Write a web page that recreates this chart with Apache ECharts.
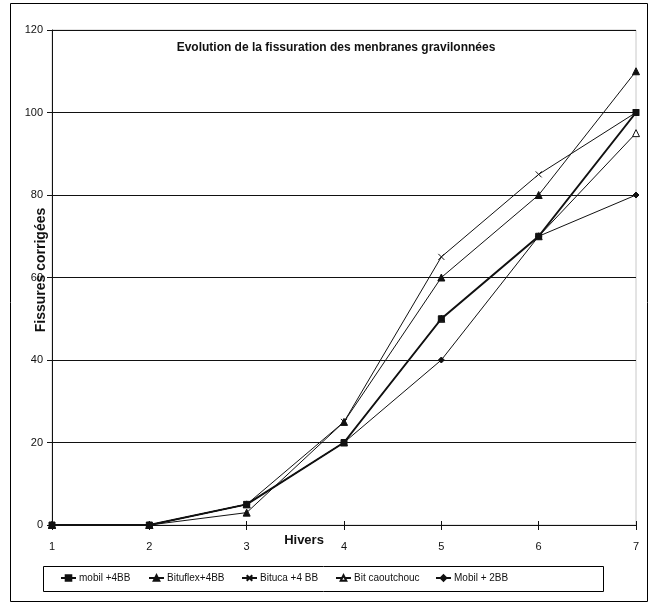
<!DOCTYPE html>
<html>
<head>
<meta charset="utf-8">
<script src="https://cdn.jsdelivr.net/npm/echarts@6/dist/echarts.min.js"></script>
<style>
html,body{margin:0;padding:0;background:#fff;}
#c{width:652px;height:607px;}
</style>
</head>
<body>
<div id="c"></div>
<script>
const hivers = [1, 2, 3, 4, 5, 6, 7];
const seriesNames = ['mobil +4BB', 'Bituflex+4BB', 'Bituca +4 BB', 'Bit caoutchouc', 'Mobil + 2BB'];
const mobil4BB = [0, 0, 5, 20, 50, 70, 100];
const bituflex4BB = [0, 0, 3, 25, 60, 80, 110];
const bituca4BB = [0, 0, 5, 25, 65, 85, 100];
const bitCaoutchouc = [0, 0, 5, 20, 50, 70, 95];
const mobil2BB = [0, 0, 5, 20, 40, 70, 80];
const yTicks = [0, 20, 40, 60, 80, 100, 120];

const pair = arr => arr.map((v, i) => [hivers[i], v]);
const FONT = '"Liberation Sans", Arial, sans-serif';
const xPath = 'path://M0,0L10,10M10,0L0,10';

const chart = echarts.init(document.getElementById('c'), null, {renderer: 'canvas'});
const mk = (name, data, symbol, size, lw, fill, z) => ({
  name: name,
  type: 'line',
  data: pair(data),
  symbol: symbol,
  symbolSize: size,
  showSymbol: true,
  z: z,
  lineStyle: {color: '#111', width: lw},
  itemStyle: {color: fill, borderColor: '#111', borderWidth: 1},
  emphasis: {disabled: true},
  animation: false
});

const legendLefts = [60, 148, 241, 335, 435];
const legends = seriesNames.map((n, i) => ({
  left: legendLefts[i], top: 573, padding: 0,
  itemWidth: 15, itemHeight: 7, itemGap: 0,
  textStyle: {fontFamily: FONT, fontSize: 10, color: '#111', padding: [0, 0, 0, -2]},
  data: [n], selectedMode: false
}));

chart.setOption({
  animation: false,
  backgroundColor: '#fff',
  graphic: [
    {type: 'rect', shape: {x: 10.5, y: 3.5, width: 637, height: 598},
     style: {fill: 'none', stroke: '#000', lineWidth: 1}, silent: true, z: -1},
    {type: 'rect', shape: {x: 43.5, y: 566.5, width: 560, height: 25},
     style: {fill: 'none', stroke: '#000', lineWidth: 1}, silent: true, z: -1},
    {type: 'text', x: 41, y: 270, rotation: Math.PI / 2,
     style: {text: 'Fissures corrigées', font: 'bold 14px "Liberation Sans", Arial, sans-serif',
             fill: '#111', textAlign: 'center', textVerticalAlign: 'middle'}, silent: true},
    {type: 'text', x: 304, y: 540,
     style: {text: 'Hivers', font: 'bold 13px "Liberation Sans", Arial, sans-serif',
             fill: '#111', textAlign: 'center', textVerticalAlign: 'middle'}, silent: true}
  ],
  title: {
    text: 'Evolution de la fissuration des menbranes gravilonnées',
    left: 331, top: 37, textAlign: 'center',
    textStyle: {fontFamily: FONT, fontWeight: 'bold', fontSize: 12, color: '#111'}
  },
  grid: {left: 52, right: 16, top: 30, bottom: 82, containLabel: false,
         show: true, borderColor: '#c8c8c8', borderWidth: 1},
  legend: legends,
  xAxis: [{
    type: 'value', min: 1, max: 7, interval: 1,
    axisLine: {lineStyle: {color: '#111', width: 1}},
    axisTick: {show: true, inside: false, length: 5, lineStyle: {color: '#111'}},
    axisLabel: {fontFamily: FONT, fontSize: 11, color: '#111', margin: 16},
    splitLine: {show: false}
  }, {
    type: 'value', min: 1, max: 7, interval: 1, position: 'bottom',
    axisLine: {show: false},
    axisTick: {show: true, inside: true, length: 4, lineStyle: {color: '#111'}},
    axisLabel: {show: false},
    splitLine: {show: false}
  }],
  yAxis: {
    type: 'value', min: 0, max: 120, interval: 20,
    axisLine: {show: true, lineStyle: {color: '#111', width: 1}},
    axisTick: {show: true, length: 5, lineStyle: {color: '#111'}},
    axisLabel: {fontFamily: FONT, fontSize: 11, color: '#111', margin: 9},
    splitLine: {show: true, lineStyle: {color: '#111', width: 1}}
  },
  series: [
    mk(seriesNames[0], mobil4BB, 'rect', 6, 2, '#111', 5),
    mk(seriesNames[1], bituflex4BB, 'triangle', 7, 1, '#111', 3),
    mk(seriesNames[2], bituca4BB, xPath, 6, 1, '#111', 3),
    mk(seriesNames[3], bitCaoutchouc, 'triangle', 7, 1, '#fff', 2),
    mk(seriesNames[4], mobil2BB, 'diamond', 6, 1, '#111', 4)
  ]
});
</script>
</body>
</html>
